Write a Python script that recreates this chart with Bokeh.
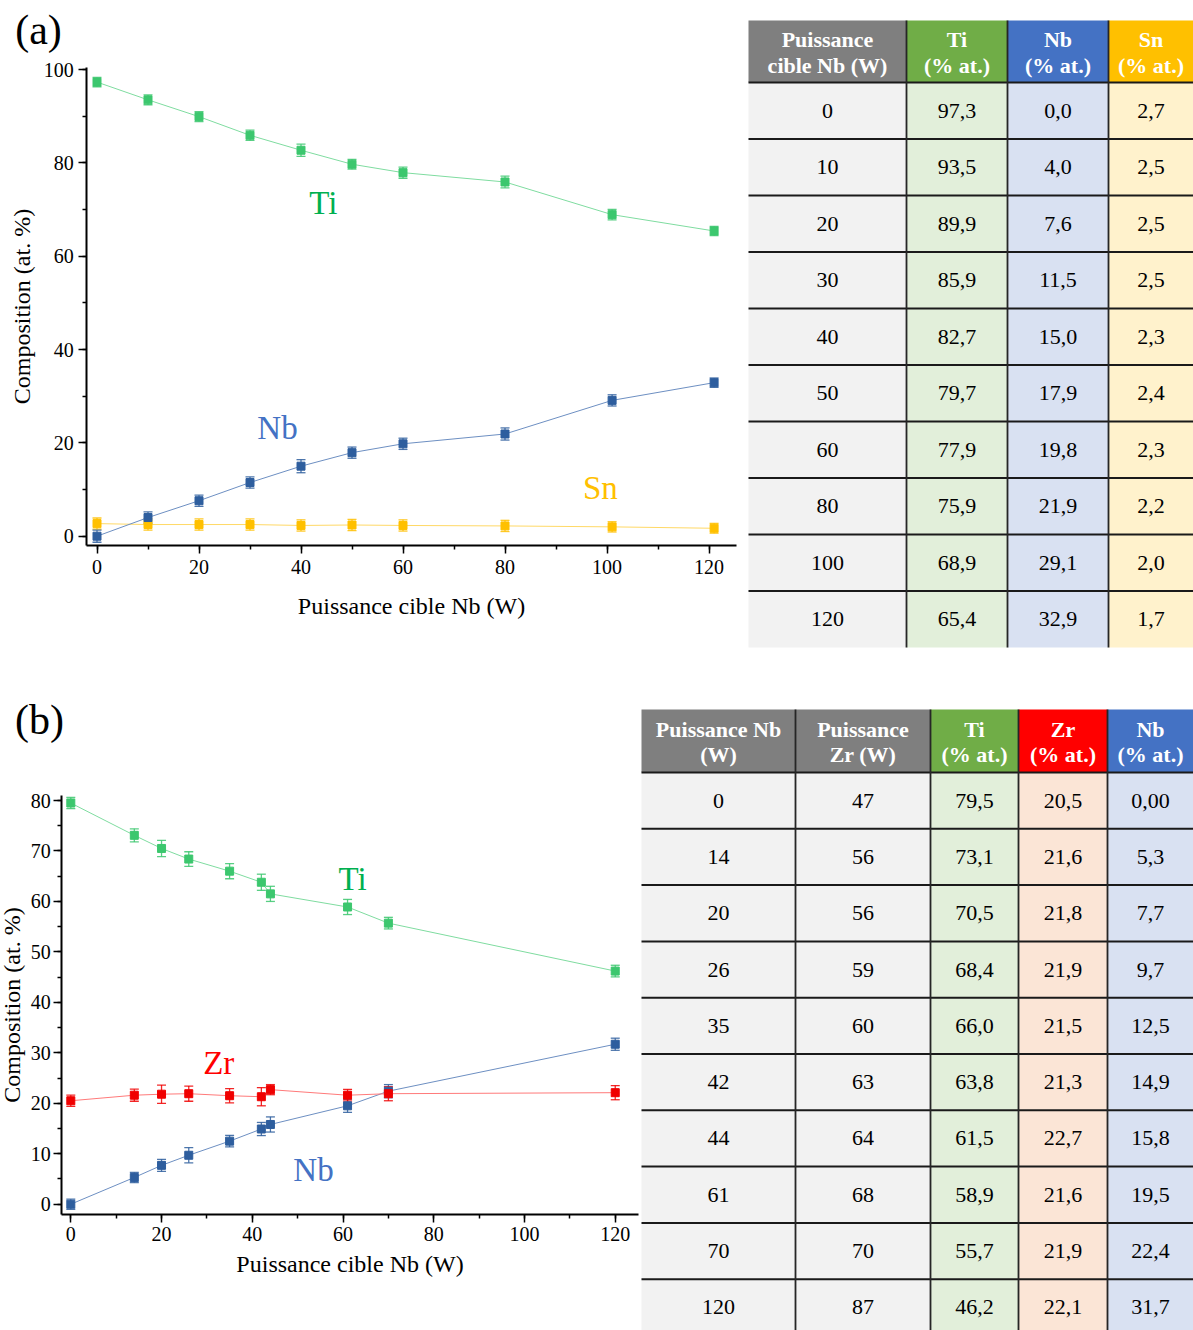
from bokeh.plotting import figure
from bokeh.layouts import column
from bokeh.models import Range1d, SingleIntervalTicker, Whisker, ColumnDataSource, Label, TeeHead
from bokeh.embed import file_html
from bokeh.resources import INLINE
from bokeh.core.properties import value

FONT = "Liberation Serif"

# ---------------- Panel (a) data ----------------
power_a = [0, 10, 20, 30, 40, 50, 60, 80, 100, 120]          # table values
x_a = [0, 10, 20, 30, 40, 50, 60, 80, 101, 121]              # plotted powers
ti_a = [97.3, 93.5, 89.9, 85.9, 82.7, 79.7, 77.9, 75.9, 68.9, 65.4]
nb_a = [0.0, 4.0, 7.6, 11.5, 15.0, 17.9, 19.8, 21.9, 29.1, 32.9]
sn_a = [2.7, 2.5, 2.5, 2.5, 2.3, 2.4, 2.3, 2.2, 2.0, 1.7]
ti_a_err = [1.0, 1.05, 1.05, 1.1, 1.3, 1.05, 1.2, 1.25, 1.1, 1.0]
nb_a_err = [1.3, 1.2, 1.2, 1.2, 1.4, 1.2, 1.2, 1.3, 1.2, 1.0]
sn_a_err = [1.2, 1.2, 1.2, 1.2, 1.2, 1.2, 1.2, 1.2, 1.1, 1.05]

# ---------------- Panel (b) data ----------------
power_nb_b = [0, 14, 20, 26, 35, 42, 44, 61, 70, 120]
power_zr_b = [47, 56, 56, 59, 60, 63, 64, 68, 70, 87]
ti_b = [79.5, 73.1, 70.5, 68.4, 66.0, 63.8, 61.5, 58.9, 55.7, 46.2]
zr_b = [20.5, 21.6, 21.8, 21.9, 21.5, 21.3, 22.7, 21.6, 21.9, 22.1]
nb_b = [0.0, 5.3, 7.7, 9.7, 12.5, 14.9, 15.8, 19.5, 22.4, 31.7]
nb_b_decimals = [2, 1, 1, 1, 1, 1, 1, 1, 1, 1]
ti_b_err = [1.1, 1.3, 1.6, 1.45, 1.5, 1.6, 1.5, 1.5, 1.15, 1.15]
zr_b_err = [1.1, 1.2, 1.8, 1.5, 1.4, 1.8, 1.0, 1.15, 1.4, 1.4]
nb_b_err = [1.0, 1.0, 1.2, 1.5, 1.15, 1.3, 1.5, 1.3, 1.3, 1.2]

# colours
C_TI_M, C_TI_L, C_TI_T = "#3cc76e", "#7fdca0", "#00b050"
C_NB_M, C_NB_L, C_NB_T = "#2e5e9e", "#6d8fc2", "#4472c4"
C_SN_M, C_SN_L, C_SN_T = "#ffc000", "#ffd966", "#ffc000"
C_ZR_M, C_ZR_L, C_ZR_T = "#f00000", "#ff7a7a", "#ff0000"

W = 1193


def fr(v, d=1):
    return f"{v:.{d}f}".replace(".", ",")


def make_panel(height, xr, yr, xbounds, ybounds, yint):
    p = figure(width=W, height=height, x_range=Range1d(*xr), y_range=Range1d(*yr),
               output_backend="svg", toolbar_location=None, title=None, min_border=0,
               outline_line_color=None)
    p.extra_x_ranges = {"px": Range1d(0, W)}
    p.extra_y_ranges = {"py": Range1d(height, 0)}
    p.grid.visible = False
    p.xaxis.ticker = SingleIntervalTicker(interval=20, num_minor_ticks=2)
    p.yaxis.ticker = SingleIntervalTicker(interval=yint, num_minor_ticks=2)
    p.xaxis.fixed_location = ybounds[0]
    p.yaxis.fixed_location = xbounds[0]
    p.xaxis.bounds = xbounds
    p.yaxis.bounds = ybounds
    for ax in p.axis:
        ax.axis_line_width = 2
        ax.axis_line_color = "black"
        ax.major_tick_line_width = 1.5
        ax.minor_tick_line_width = 1.5
        ax.major_tick_line_color = "black"
        ax.minor_tick_line_color = "black"
        ax.major_tick_out = 8
        ax.major_tick_in = 0
        ax.minor_tick_out = 4
        ax.minor_tick_in = 0
        ax.major_label_text_font = FONT
        ax.major_label_text_font_size = "20px"
        ax.major_label_text_color = "black"
        ax.axis_label_text_font = FONT
        ax.axis_label_text_font_size = "24px"
        ax.axis_label_text_font_style = "normal"
        ax.axis_label_text_color = "black"
    p.xaxis.major_label_standoff = 6
    p.yaxis.major_label_standoff = 5
    p.xaxis.axis_label_standoff = 16
    p.yaxis.axis_label_standoff = 6
    p.xaxis.axis_label = "Puissance cible Nb (W)"
    p.yaxis.axis_label = "Composition (at. %)"
    return p


def series(p, x, y, err, cm, cl):
    p.line(x, y, line_color=cl, line_width=1)
    src = ColumnDataSource(dict(x=x, lo=[v - e for v, e in zip(y, err)],
                                hi=[v + e for v, e in zip(y, err)]))
    w = Whisker(source=src, base="x", lower="lo", upper="hi", dimension="height",
                line_color=cm, line_width=1.3, line_alpha=0.85,
                upper_head=TeeHead(size=9, line_color=cm, line_width=1.3, line_alpha=0.85),
                lower_head=TeeHead(size=9, line_color=cm, line_width=1.3, line_alpha=0.85))
    p.add_layout(w)
    p.scatter(x, y, marker="square", size=8, fill_color=cm, line_color=cm)


def add_label(p, x, y, text, color, size, px=False):
    kw = dict(x_range_name="px", y_range_name="py") if px else {}
    p.add_layout(Label(x=x, y=y, text=text, text_color=color, text_font=FONT,
                       text_font_size=size, text_align="center", text_baseline="middle", **kw))


def draw_table(p, x0, edges, h_top, h_bot, row_h, bottom, headers, head_colors,
               body_colors, columns):
    R = dict(x_range_name="px", y_range_name="py")
    ex = [x0 + e for e in edges]
    n_rows = len(columns[0])
    ncol = len(headers)
    p.quad(left=ex[:-1], right=ex[1:], top=[h_top] * ncol, bottom=[h_bot] * ncol,
           fill_color=head_colors, line_color=None, **R)
    p.quad(left=ex[:-1], right=ex[1:], top=[h_bot] * ncol, bottom=[bottom] * ncol,
           fill_color=body_colors, line_color=None, **R)
    cx = [(ex[i] + ex[i + 1]) / 2 for i in range(ncol)]
    p.text(x=cx, y=[(h_top + h_bot) / 2 + 1] * ncol, text=headers, text_font=value(FONT),
           text_font_size="22px", text_font_style="bold", text_color="white",
           text_align="center", text_baseline="middle", text_line_height=1.02, **R)
    xs, ys, txt = [], [], []
    for c in range(ncol):
        for r in range(n_rows):
            xs.append(cx[c])
            ys.append(h_bot + row_h * (r + 0.5))
            txt.append(columns[c][r])
    p.text(x=xs, y=ys, text=txt, text_font=value(FONT), text_font_size="22px",
           text_color="black", text_align="center", text_baseline="middle", **R)
    hy = [h_bot + row_h * r for r in range(n_rows)]
    p.segment(x0=[ex[0]] * len(hy), x1=[ex[-1]] * len(hy), y0=hy, y1=hy,
              line_color="#1a1a1a", line_width=2, **R)
    vx = ex[1:-1]
    p.segment(x0=vx, x1=vx, y0=[h_top] * len(vx), y1=[bottom] * len(vx),
              line_color="#262626", line_width=1.8, **R)


# ---------------- Row (a) ----------------
HA = 660
pa = make_panel(HA, (-96.5 / 5.1, (W - 96.5) / 5.1), ((535.7 - HA) / 4.667, 535.7 / 4.667),
                (-2, 125.4), (-2, 100.5), 20)
series(pa, x_a, sn_a, sn_a_err, C_SN_M, C_SN_L)
series(pa, x_a, nb_a, nb_a_err, C_NB_M, C_NB_L)
series(pa, x_a, ti_a, ti_a_err, C_TI_M, C_TI_L)
add_label(pa, 44.4, 71.5, "Ti", C_TI_T, "33px")
add_label(pa, 35.4, 23.1, "Nb", C_NB_T, "33px")
add_label(pa, 98.7, 10.4, "Sn", C_SN_T, "33px")
add_label(pa, 38, 29, "(a)", "black", "42px", px=True)
draw_table(pa, 748, [0, 158, 259, 360, 445], 20, 82, 56.5, 647,
           ["Puissance\ncible Nb (W)", "Ti\n(% at.)", "Nb\n(% at.)", "Sn\n(% at.)"],
           ["#7f7f7f", "#70ad47", "#4472c4", "#ffc000"],
           ["#f2f2f2", "#e2efda", "#d9e1f2", "#fff2cc"],
           [[str(v) for v in power_a], [fr(v) for v in ti_a], [fr(v) for v in nb_a],
            [fr(v) for v in sn_a]])

# ---------------- Row (b) ----------------
HB = 670
Y0B = 1203.7 - 660
pb = make_panel(HB, (-70.3 / 4.537, (W - 70.3) / 4.537), ((Y0B - HB) / 5.046, Y0B / 5.046),
                (-2, 125.2), (-2, 81), 10)
pb.xaxis.major_label_standoff = 5
pb.xaxis.axis_label_standoff = 6
pb.yaxis.major_label_standoff = 3
pb.yaxis.axis_label_standoff = 3
series(pb, power_nb_b, ti_b, ti_b_err, C_TI_M, C_TI_L)
series(pb, power_nb_b, nb_b, nb_b_err, C_NB_M, C_NB_L)
series(pb, power_nb_b, zr_b, zr_b_err, C_ZR_M, C_ZR_L)
add_label(pb, 62.1, 64.5, "Ti", C_TI_T, "33px")
add_label(pb, 32.6, 27.9, "Zr", C_ZR_T, "33px")
add_label(pb, 53.5, 6.7, "Nb", C_NB_T, "33px")
add_label(pb, 39, 59, "(b)", "black", "42px", px=True)
draw_table(pb, 641, [0, 154, 289, 377, 466, 552], 49, 112, 56.3, HB,
           ["Puissance Nb\n(W)", "Puissance\nZr (W)", "Ti\n(% at.)", "Zr\n(% at.)", "Nb\n(% at.)"],
           ["#7f7f7f", "#7f7f7f", "#70ad47", "#ff0000", "#4472c4"],
           ["#f2f2f2", "#f2f2f2", "#e2efda", "#fbe5d6", "#d9e1f2"],
           [[str(v) for v in power_nb_b], [str(v) for v in power_zr_b], [fr(v) for v in ti_b],
            [fr(v) for v in zr_b], [fr(v, d) for v, d in zip(nb_b, nb_b_decimals)]])

layout = column(pa, pb)
open("out.html", "w").write(file_html(layout, INLINE))
